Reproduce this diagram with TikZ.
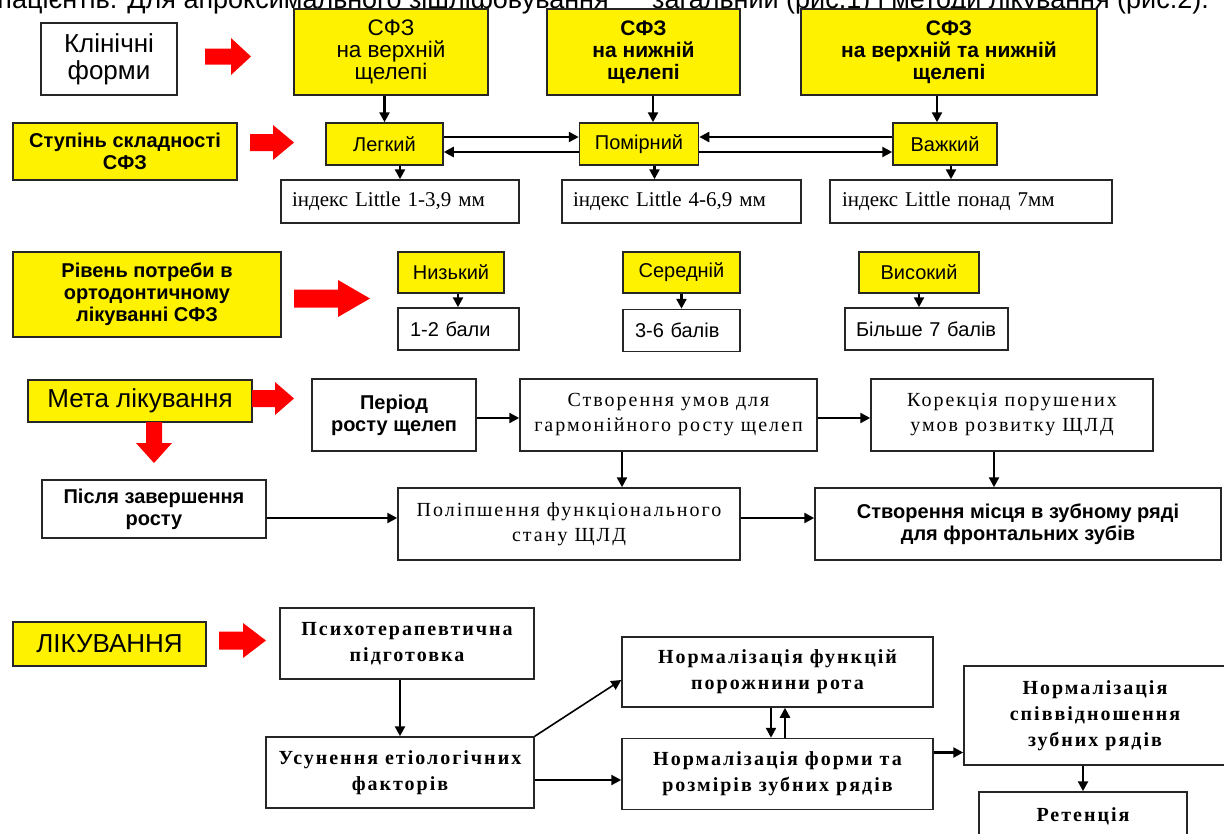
\documentclass[tikz,border=0pt]{standalone}
\usepackage{fontspec}
\setmainfont{Liberation Serif}
\setsansfont{Liberation Sans}
\newfontfamily\tmwide[LetterSpace=10]{Liberation Serif}
\usepackage{tikz}
\usetikzlibrary{positioning,arrows.meta,calc}

\begin{document}
\begin{tikzpicture}[x=1pt, y=-1pt,
  box/.style={draw=black!85, line width=1.5pt, inner sep=2pt, align=center},
  yel/.style={box, fill=yellow},
  wht/.style={box, fill=white},
  big/.style={font=\sffamily\fontsize{26}{27}\selectfont},
  mid/.style={font=\sffamily\fontsize{20}{22}\selectfont},
  midb/.style={font=\sffamily\bfseries\fontsize{20}{22}\selectfont},
  sfz/.style={font=\sffamily\bfseries\fontsize{21}{22}\selectfont},
  tm/.style={font=\rmfamily\fontsize{21}{24}\selectfont},
  tmw/.style={font=\tmwide\fontsize{20}{25}\selectfont},
  tmb/.style={font=\tmwide\bfseries\fontsize{20}{26}\selectfont},
  lft/.style={align=left, inner xsep=11pt},
  arr/.style={-{Triangle[length=10pt,width=10pt]}, line width=2.4pt, black}
]
\useasboundingbox (0,0) rectangle (1224,833);
\fill[white] (0,0) rectangle (1224,833);
\clip (0,0) rectangle (1224,833);

% cut line of the page text
\node[anchor=base east, inner sep=0, font=\sffamily\fontsize{27}{30}\selectfont] (cap1) at (609,8) {пацієнтів. Для апроксимального зішліфовування};
\node[anchor=base west, inner sep=0, font=\sffamily\fontsize{27}{30}\selectfont] (cap2) at (652,8) {загальний (рис.1) і методи лікування (рис.2).};

% clinical forms
\node[wht, big, minimum width=136pt, minimum height=72pt] (kf) at (109,59) {Клінічні\\форми};
\node[yel, font=\sffamily\fontsize{22.5}{22}\selectfont, minimum width=194pt, minimum height=86pt] (s1) at (391,52) {СФЗ\\на верхній\\щелепі};
\node[yel, sfz, minimum width=193pt, minimum height=86pt] (s2) at (643.5,52) {СФЗ\\на нижній\\щелепі};
\node[yel, sfz, minimum width=296pt, minimum height=86pt] (s3) at (949,52) {СФЗ\\на верхній та нижній\\щелепі};

% severity
\node[yel, midb, minimum width=224pt, minimum height=57pt] (ss) at (125,151.5) {Ступінь складності\\СФЗ};
\node[yel, mid, minimum width=117pt, minimum height=42pt] (lg) at (384.5,144) {Легкий};
\node[yel, mid, minimum width=119pt, minimum height=42pt, right=135pt of lg] (pm) {Помірний};
\node[yel, mid, minimum width=104pt, minimum height=42pt, right=193pt of pm] (vz) {Важкий};
\node[wht, tm, lft, text width=216pt, minimum height=43pt] (i1) at (400,201.5) {індекс Little 1-3,9 мм};
\node[wht, tm, lft, text width=217pt, minimum height=43pt] (i2) at (681.5,201.5) {індекс Little 4-6,9 мм};
\node[wht, tm, lft, inner xsep=12pt, text width=258pt, minimum height=43pt] (i3) at (971,201.5) {індекс Little понад 7мм};

% need of treatment
\node[yel, midb, minimum width=268pt, minimum height=85pt] (rp) at (147,294.5) {Рівень потреби в\\ортодонтичному\\лікуванні СФЗ};
\node[yel, mid, minimum width=106pt, minimum height=41pt] (nz) at (451,272.5) {Низький};
\node[wht, mid, lft, inner xsep=12pt, text width=97pt, minimum height=42pt] (b1) at (458.5,329) {1-2 бали};
\node[yel, mid, minimum width=117pt, minimum height=41pt] (sr) at (681.5,272.5) {Середній};
\node[wht, mid, lft, inner xsep=12pt, text width=93pt, minimum height=42pt, below=15pt of sr] (b2) {3-6 балів};
\node[yel, mid, minimum width=120pt, minimum height=41pt] (vs) at (919,272.5) {Високий};
\node[wht, mid, lft, text width=141pt, minimum height=42pt] (b3) at (926.5,329) {Більше 7 балів};

% aim of treatment
\node[yel, big, minimum width=224pt, minimum height=42pt] (mt) at (140,401) {Мета лікування};
\node[wht, midb, minimum width=164pt, minimum height=72pt] (pr) at (394,415) {Період\\росту щелеп};
\node[wht, tmw, minimum width=297pt, minimum height=72pt] (su) at (668.5,415) {Створення умов для\\гармонійного росту щелеп};
\node[wht, tmw, minimum width=282pt, minimum height=72pt] (kr) at (1012,415) {Корекція порушених\\умов розвитку ЩЛД};
\node[wht, midb, minimum width=224pt, minimum height=58pt] (pz) at (154,509) {Після завершення\\росту};
\node[wht, tmw, minimum width=342pt, minimum height=72pt] (pl) at (569,524) {Поліпшення функціонального\\стану ЩЛД};
\node[wht, midb, minimum width=406pt, minimum height=72pt] (sm) at (1018,524) {Створення місця в зубному ряді\\для фронтальних зубів};

% treatment
\node[yel, big, minimum width=193pt, minimum height=44pt] (lk) at (109.5,644) {ЛІКУВАННЯ};
\node[wht, tmb, minimum width=254pt, minimum height=71pt] (ps) at (407,643.5) {Психотерапевтична\\підготовка};
\node[wht, tmb, minimum width=268pt, minimum height=71pt] (us) at (400,772.5) {Усунення етіологічних\\факторів};
\node[wht, tmb, minimum width=311pt, minimum height=70pt] (nf) at (777.5,672) {Нормалізація функцій\\порожнини рота};
\node[wht, tmb, minimum width=311pt, minimum height=71pt, below=30pt of nf] (nr) {Нормалізація форми та\\розмірів зубних рядів};
\node[wht, tmb, minimum width=262pt, minimum height=99pt] (nsp) at (1095,715.5) {Нормалізація\\співвідношення\\зубних рядів};
\node[wht, tmb, minimum width=208pt, minimum height=48pt] (rt) at (1083,816) {Ретенція};

% red block arrows
\fill[red] (205,48.5) -- (231,48.5) -- (231,38) -- (251,56.5) -- (231,75) -- (231,64.5) -- (205,64.5) -- cycle;
\fill[red] (250,134) -- (273,134) -- (273,125) -- (294,142.5) -- (273,160) -- (273,151) -- (250,151) -- cycle;
\fill[red] (294,289.5) -- (338,289.5) -- (338,280) -- (370,298.5) -- (338,317) -- (338,307.5) -- (294,307.5) -- cycle;
\fill[red] (252,390) -- (275,390) -- (275,382) -- (294,398.5) -- (275,415) -- (275,407) -- (252,407) -- cycle;
\fill[red] (146,422) -- (146,443) -- (136,443) -- (154,463) -- (172,443) -- (162,443) -- (162,422) -- cycle;
\fill[red] (219,631.5) -- (243,631.5) -- (243,623) -- (266,640.5) -- (243,658) -- (243,649.5) -- (219,649.5) -- cycle;

% connectors
\draw[arr] (lg.north |- s1.south) -- (lg.north);
\draw[arr] ([xshift=9.5pt]s2.south) -- ([xshift=9.5pt]s2.south |- pm.north);
\draw[arr] ([xshift=-8pt]vz.north |- s3.south) -- ([xshift=-8pt]vz.north);
\draw[arr] ([xshift=15.5pt]lg.south) -- ([xshift=15.5pt]lg.south |- i1.north);
\draw[arr] ([xshift=15.5pt]pm.south) -- ([xshift=15.5pt]pm.south |- i2.north);
\draw[arr] ([xshift=6pt]vz.south) -- ([xshift=6pt]vz.south |- i3.north);
\draw[arr] ([yshift=7pt]lg.east) -- ([yshift=7pt]lg.east -| pm.west);
\draw[arr] ([yshift=-8pt]pm.west) -- ([yshift=-8pt]pm.west -| lg.east);
\draw[arr] ([yshift=7pt]vz.west) -- ([yshift=7pt]vz.west -| pm.east);
\draw[arr] ([yshift=-8pt]pm.east) -- ([yshift=-8pt]pm.east -| vz.west);
\draw[arr] ([xshift=7pt]nz.south) -- ([xshift=7pt]nz.south |- b1.north);
\draw[arr] (sr.south) -- (b2.north);
\draw[arr] (vs.south) -- (vs.south |- b3.north);
\draw[arr] ([yshift=-3pt]pr.east) -- ([yshift=-3pt]pr.east -| su.west);
\draw[arr] ([yshift=-3pt]su.east) -- ([yshift=-3pt]su.east -| kr.west);
\draw[arr] ([xshift=-46.5pt]su.south) -- ([xshift=-46.5pt]su.south |- pl.north);
\draw[arr] ([xshift=-18pt]kr.south) -- ([xshift=-18pt]kr.south |- sm.north);
\draw[arr] ([yshift=-9pt]pz.east) -- ([yshift=-9pt]pz.east -| pl.west);
\draw[arr] ([yshift=6pt]pl.east) -- ([yshift=6pt]pl.east -| sm.west);
\draw[arr] (us.north |- ps.south) -- (us.north);
\draw[arr, line width=1.6pt] (us.north east) -- ([yshift=-8pt]nf.west);
\draw[arr] ([yshift=-7.5pt]us.east) -- ([yshift=-7.5pt]us.east -| nr.west);
\draw[arr] ([xshift=-6.5pt]nf.south) -- ([xshift=-6.5pt]nf.south |- nr.north);
\draw[arr] ([xshift=7.5pt]nr.north) -- ([xshift=7.5pt]nr.north |- nf.south);
\draw[arr] ([yshift=21.5pt]nr.east) -- ([yshift=21.5pt]nr.east -| nsp.west);
\draw[arr] (rt.north |- nsp.south) -- (rt.north);
\end{tikzpicture}
\end{document}
